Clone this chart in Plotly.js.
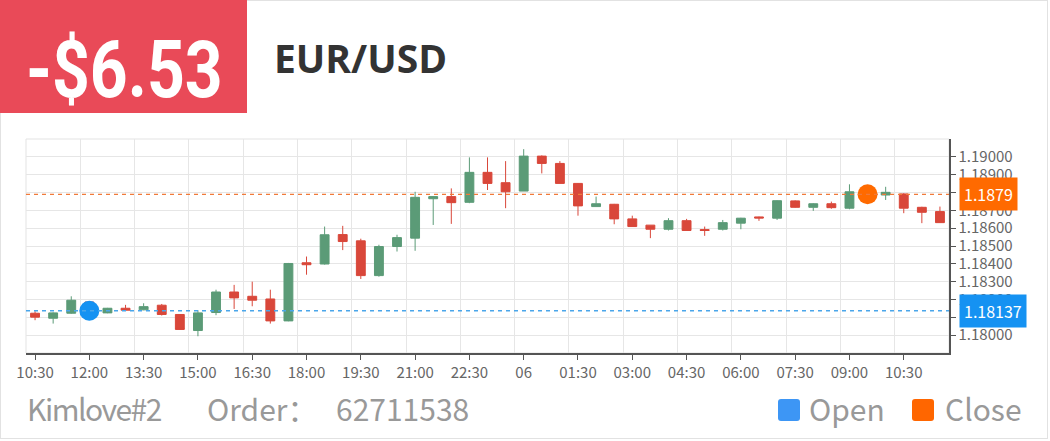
<!DOCTYPE html>
<html>
<head>
<meta charset="utf-8">
<script src="https://cdn.plot.ly/plotly-3.0.1.min.js"></script>
<style>
  html, body { margin: 0; padding: 0; background: #ffffff; }
  #wrap { position: relative; width: 1050px; height: 441px; overflow: hidden; }
  #card { position: absolute; left: 0; top: 0; width: 1046px; height: 437px; border: 1px solid #e2e2e2; }
  #chart { position: absolute; left: 0; top: 0; width: 1050px; height: 441px; }
  #badge { position: absolute; left: 0; top: 0; width: 247px; height: 113px; background: #e94a58; }
  #badgeText { position: absolute; left: 26px; top: 30px; font-family: Roboto, "DejaVu Sans", sans-serif; font-weight: 700; font-size: 80px; line-height: 80px; color: #ffffff; transform: scaleX(0.825); transform-origin: left center; white-space: nowrap; }
  #pair { position: absolute; left: 274px; top: 38px; font-family: "Open Sans", sans-serif; font-weight: 700; font-size: 39px; line-height: 39px; color: #333333; white-space: nowrap; }
  .foot { position: absolute; top: 393px; font-family: "Noto Sans CJK SC", "Open Sans", sans-serif; font-size: 30px; line-height: 30px; color: #999999; white-space: nowrap; }
  .sq { position: absolute; top: 399px; width: 22px; height: 22px; border-radius: 3px; }
</style>
</head>
<body>
<div id="wrap">
  <div id="card"></div>
  <div id="chart"></div>
  <div id="badge"><div id="badgeText">-$6.53</div></div>
  <div id="pair">EUR/USD</div>
  <div class="foot" style="left:27px;letter-spacing:-1.5px">Kimlove#2</div>
  <div class="foot" style="left:207px">Order：</div>
  <div class="foot" style="left:336px">62711538</div>
  <div class="sq" style="left:778px;background:#3d96f5"></div>
  <div class="foot" style="left:809px">Open</div>
  <div class="sq" style="left:912px;background:#ff6600"></div>
  <div class="foot" style="left:945px">Close</div>
</div>
<script>
// ---- data ----
const times = ['10:30','11:00','11:30','12:00','12:30','13:00','13:30','14:00','14:30','15:00','15:30','16:00','16:30','17:00','17:30','18:00','18:30','19:00','19:30','20:00','20:30','21:00','21:30','22:00','22:30','23:00','23:30','00:00','00:30','01:00','01:30','02:00','02:30','03:00','03:30','04:00','04:30','05:00','05:30','06:00','06:30','07:00','07:30','08:00','08:30','09:00','09:30','10:00','10:30','11:00','11:30'];
const tickLabels = ['10:30','12:00','13:30','15:00','16:30','18:00','19:30','21:00','22:30','06','01:30','03:00','04:30','06:00','07:30','09:00','10:30'];
const openP  = [1.18123,1.18095,1.18123,1.18186,1.18125,1.18151,1.18142,1.18168,1.18116,1.18026,1.18127,1.18242,1.18218,1.18203,1.18080,1.18406,1.18399,1.18564,1.18529,1.18334,1.18497,1.18544,1.18765,1.18777,1.18745,1.18913,1.18855,1.18808,1.19004,1.18963,1.18851,1.18721,1.18734,1.18652,1.18617,1.18594,1.18642,1.18592,1.18594,1.18628,1.18663,1.18656,1.18753,1.18717,1.18737,1.18712,1.18806,1.18786,1.18792,1.18717,1.18693];
const highP  = [1.18134,1.18128,1.18218,1.18190,1.18153,1.18170,1.18179,1.18175,1.18118,1.18140,1.18255,1.18282,1.18300,1.18255,1.18405,1.18441,1.18609,1.18613,1.18541,1.18507,1.18563,1.18804,1.18780,1.18823,1.18997,1.18997,1.18976,1.19043,1.19008,1.18976,1.18853,1.18777,1.18736,1.18670,1.18617,1.18656,1.18652,1.18609,1.18646,1.18658,1.18665,1.18756,1.18756,1.18740,1.18749,1.18846,1.18830,1.18832,1.18796,1.18720,1.18721];
const lowP   = [1.18084,1.18065,1.18120,1.18120,1.18123,1.18136,1.18140,1.18110,1.18030,1.17994,1.18112,1.18147,1.18162,1.18065,1.18078,1.18339,1.18396,1.18477,1.18315,1.18328,1.18469,1.18473,1.18618,1.18624,1.18740,1.18814,1.18712,1.18808,1.18907,1.18851,1.18670,1.18721,1.18622,1.18609,1.18544,1.18587,1.18587,1.18557,1.18587,1.18594,1.18641,1.18646,1.18715,1.18697,1.18709,1.18706,1.18770,1.18758,1.18684,1.18628,1.18631];
const closeP = [1.18101,1.18125,1.18196,1.18135,1.18151,1.18140,1.18160,1.18116,1.18032,1.18125,1.18242,1.18209,1.18196,1.18080,1.18402,1.18395,1.18563,1.18525,1.18334,1.18497,1.18547,1.18773,1.18777,1.18743,1.18913,1.18851,1.18804,1.19004,1.18963,1.18851,1.18725,1.18737,1.18652,1.18609,1.18594,1.18642,1.18587,1.18587,1.18631,1.18656,1.18657,1.18754,1.18717,1.18737,1.18715,1.18804,1.18790,1.18801,1.18712,1.18689,1.18631];
const yTicks     = [1.180,1.181,1.182,1.183,1.184,1.185,1.186,1.187,1.188,1.189,1.190];
const yTickText  = ['1.18000','','1.18200','1.18300','1.18400','1.18500','1.18600','1.18700','','1.18900','1.19000'];
const orderOpen  = { time: '12:00', price: 1.18137, label: '1.18137' };
const orderClose = { time: '09:30', price: 1.1879,  label: '1.1879' };

// ---- build ----
const xIdx = times.map((t, i) => i);
const tickIdx = [];
times.forEach((t, i) => { if (i % 3 === 0) tickIdx.push(i); });
const boundaries = tickIdx.map(i => i - 0.5);
const openIdx = times.indexOf(orderOpen.time);
const closeIdx = times.lastIndexOf(orderClose.time);

const GREEN = '#5b9b77', RED = '#d9473a', BLUE = '#1592f2', ORANGE = '#ff6a00';
const FONT = '"Noto Sans CJK SC", "Open Sans", sans-serif';

const traces = [
  {
    type: 'candlestick', x: xIdx, open: openP, high: highP, low: lowP, close: closeP,
    increasing: { line: { color: GREEN, width: 1 }, fillcolor: GREEN },
    decreasing: { line: { color: RED, width: 1 }, fillcolor: RED },
    whiskerwidth: 0, hoverinfo: 'skip', showlegend: false
  },
  {
    type: 'scatter', mode: 'markers', x: [openIdx], y: [orderOpen.price],
    marker: { size: 20, color: BLUE }, hoverinfo: 'skip', showlegend: false, cliponaxis: false
  },
  {
    type: 'scatter', mode: 'markers', x: [closeIdx], y: [orderClose.price],
    marker: { size: 20, color: ORANGE }, hoverinfo: 'skip', showlegend: false, cliponaxis: false
  }
];

const layout = {
  width: 1050, height: 441,
  margin: { l: 26, r: 101, t: 139, b: 88, pad: 0 },
  paper_bgcolor: 'rgba(0,0,0,0)', plot_bgcolor: 'rgba(0,0,0,0)',
  showlegend: false,
  boxgap: 0.3,
  font: { family: FONT, size: 15, color: '#666666' },
  xaxis: {
    type: 'linear', range: [-0.5, times.length - 0.5], fixedrange: true,
    rangeslider: { visible: false },
    tickmode: 'array', tickvals: tickIdx, ticktext: tickLabels,
    ticks: 'outside', ticklen: 5, tickcolor: '#555555', tickwidth: 1,
    tickfont: { family: FONT, size: 15, color: '#666666' },
    showgrid: false, zeroline: false,
    showline: true, linecolor: '#555555', linewidth: 1.5,
    minor: { tickmode: 'array', tickvals: boundaries, showgrid: true, gridcolor: '#e6e6e6', gridwidth: 1, ticks: '' }
  },
  yaxis: {
    side: 'right', range: [1.179, 1.191], fixedrange: true,
    tickmode: 'array', tickvals: yTicks, ticktext: yTickText,
    ticks: 'outside', ticklen: 5, tickcolor: '#555555',
    tickfont: { family: FONT, size: 15, color: '#666666' },
    showgrid: true, gridcolor: '#e6e6e6', gridwidth: 1, zeroline: false,
    showline: true, linecolor: '#555555', linewidth: 1.5
  },
  shapes: [
    { type: 'rect', xref: 'paper', yref: 'paper', x0: 0, x1: 1, y0: 0, y1: 1, line: { color: '#e3e3e3', width: 1 }, layer: 'below' },
    { type: 'line', xref: 'paper', yref: 'y', x0: 0, x1: 1, y0: orderClose.price, y1: orderClose.price, line: { color: '#f07a3a', width: 1.3, dash: '4px,4px' } },
    { type: 'line', xref: 'paper', yref: 'y', x0: 0, x1: 1, y0: orderOpen.price, y1: orderOpen.price, line: { color: '#4aa6ea', width: 1.3, dash: '4px,4px' } }
  ],
  annotations: [
    { xref: 'paper', yref: 'y', x: 1, y: orderClose.price, xanchor: 'left', yanchor: 'middle', xshift: 10,
      text: orderClose.label, showarrow: false, bgcolor: ORANGE, borderpad: 4,
      font: { family: FONT, size: 16, color: '#ffffff' } },
    { xref: 'paper', yref: 'y', x: 1, y: orderOpen.price, xanchor: 'left', yanchor: 'middle', xshift: 10,
      text: orderOpen.label, showarrow: false, bgcolor: BLUE, borderpad: 4,
      font: { family: FONT, size: 16, color: '#ffffff' } }
  ]
};

Plotly.newPlot('chart', traces, layout, { staticPlot: true, displayModeBar: false });
</script>
</body>
</html>
